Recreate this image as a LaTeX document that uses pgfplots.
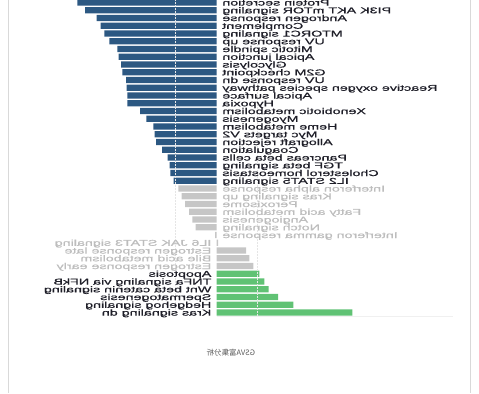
\documentclass[border=0pt]{standalone}
\usepackage{pgfplots}
\pgfplotsset{compat=1.18}
\usepackage{fontspec}
\setmainfont{Liberation Sans}
\newfontfamily\lblfont{Liberation Sans}[FakeBold=0.6]
\newfontfamily\cjk{Noto Sans CJK SC}
\definecolor{bblue}{HTML}{2C5882}
\definecolor{bgray}{HTML}{C6C6C6}
\definecolor{bgreen}{HTML}{60C274}
\definecolor{lgray}{HTML}{BDBDBD}
\definecolor{dtext}{HTML}{1E1E28}
\tikzset{
  lbl/.style={inner sep=0pt, xscale=-1.7, font=\lblfont\fontsize{8.4bp}{9bp}\selectfont, yshift=-3bp},
  lblR/.style={lbl, anchor=base east},
  lblL/.style={lbl, anchor=base west},
}
\begin{document}
\begin{tikzpicture}[x=1bp,y=1bp]
\useasboundingbox (0,0) rectangle (479,-393);
\draw[color=black!15, line width=0.8bp] (8.3,0) -- (8.3,-393);
\draw[color=black!15, line width=0.8bp] (470,0) -- (470,-393);
\begin{axis}[
  at={(56.5bp,-316.4bp)}, anchor=south west,
  scale only axis, width=396.5bp, height=317.75bp,
  xmin=-160, xmax=236.5, ymin=-40.5, ymax=0.5,
  hide axis, clip=false,
  xbar, bar width=6.2bp, bar shift=0pt,
]
\addplot[xbar, bar shift=0pt, fill=bblue, draw=none] coordinates {
(-139.2,0) (-131.5,-1) (-119.8,-2) (-115.8,-3) (-112.2,-4) (-107.2,-5)
(-99.2,-6) (-98,-7) (-95.5,-8) (-94.2,-9) (-90.5,-10) (-89.8,-11)
(-89.2,-12) (-89.2,-13) (-76.5,-14) (-70.2,-15) (-63.2,-16) (-62,-17)
(-60.5,-18) (-54.3,-19) (-48.8,-20) (-46.9,-21) (-46.2,-22) (-42.8,-23)
};
\addplot[xbar, bar shift=0pt, fill=bgray, draw=none] coordinates {
(-38.2,-24) (-35,-25) (-31.5,-26) (-27.5,-27) (-24.2,-28) (-20.8,-29) (-1.5,-30)
(1.5,-31) (29.5,-32) (32.8,-33) (36.8,-34)
};
\addplot[xbar, bar shift=0pt, fill=bgreen, draw=none] coordinates {
(42.8,-35) (47.8,-36) (52.2,-37) (61.5,-38) (76.8,-39) (135.8,-40)
};
\draw[black!10, line width=0.6bp, dash pattern=on 2bp off 1bp] (axis cs:-41,0.5) -- (axis cs:-41,-40.5);
\draw[black!10, line width=0.6bp, dash pattern=on 2bp off 1bp] (axis cs:41,0.5) -- (axis cs:41,-40.5);
\draw[black!6, line width=0.6bp] (axis cs:0,-40.5) -- (axis cs:236.5,-40.5);
% labels, negative side (text to the right of zero)
\node[lblR, text=dtext] at (axis cs:5.5,0) {Protein secretion};
\node[lblR, text=dtext] at (axis cs:5.5,-1) {PI3K AKT mTOR signaling};
\node[lblR, text=dtext] at (axis cs:5.5,-2) {Androgen response};
\node[lblR, text=dtext] at (axis cs:5.5,-3) {Complement};
\node[lblR, text=dtext] at (axis cs:5.5,-4) {MTORC1 signaling};
\node[lblR, text=dtext] at (axis cs:5.5,-5) {UV response up};
\node[lblR, text=dtext] at (axis cs:5.5,-6) {Mitotic spindle};
\node[lblR, text=dtext] at (axis cs:5.5,-7) {Apical junction};
\node[lblR, text=dtext] at (axis cs:5.5,-8) {Glycolysis};
\node[lblR, text=dtext] at (axis cs:5.5,-9) {G2M checkpoint};
\node[lblR, text=dtext] at (axis cs:5.5,-10) {UV response dn};
\node[lblR, text=dtext] at (axis cs:5.5,-11) {Reactive oxygen species pathway};
\node[lblR, text=dtext] at (axis cs:5.5,-12) {Apical surface};
\node[lblR, text=dtext] at (axis cs:5.5,-13) {Hypoxia};
\node[lblR, text=dtext] at (axis cs:5.5,-14) {Xenobiotic metabolism};
\node[lblR, text=dtext] at (axis cs:5.5,-15) {Myogenesis};
\node[lblR, text=dtext] at (axis cs:5.5,-16) {Heme metabolism};
\node[lblR, text=dtext] at (axis cs:5.5,-17) {Myc targets V2};
\node[lblR, text=dtext] at (axis cs:5.5,-18) {Allograft rejection};
\node[lblR, text=dtext] at (axis cs:5.5,-19) {Coagulation};
\node[lblR, text=dtext] at (axis cs:5.5,-20) {Pancreas beta cells};
\node[lblR, text=dtext] at (axis cs:5.5,-21) {TGF beta signaling};
\node[lblR, text=dtext] at (axis cs:5.5,-22) {Cholesterol homeostasis};
\node[lblR, text=dtext] at (axis cs:5.5,-23) {IL2 STAT5 signaling};
\node[lblR, text=lgray] at (axis cs:5.5,-24) {Interferon alpha response};
\node[lblR, text=lgray] at (axis cs:5.5,-25) {Kras signaling up};
\node[lblR, text=lgray] at (axis cs:5.5,-26) {Peroxisome};
\node[lblR, text=lgray] at (axis cs:5.5,-27) {Fatty acid metabolism};
\node[lblR, text=lgray] at (axis cs:5.5,-28) {Angiogenesis};
\node[lblR, text=lgray] at (axis cs:5.5,-29) {Notch signaling};
\node[lblR, text=lgray] at (axis cs:5.5,-30) {Interferon gamma response};
% labels, positive side (text to the left of zero)
\node[lblL, text=lgray] at (axis cs:-4.8,-31) {IL6 JAK STAT3 signaling};
\node[lblL, text=lgray] at (axis cs:-4.8,-32) {Estrogen response late};
\node[lblL, text=lgray] at (axis cs:-4.8,-33) {Bile acid metabolism};
\node[lblL, text=lgray] at (axis cs:-4.8,-34) {Estrogen response early};
\node[lblL, text=dtext] at (axis cs:-4.8,-35) {Apoptosis};
\node[lblL, text=dtext] at (axis cs:-4.8,-36) {TNFa signaling via NFkB};
\node[lblL, text=dtext] at (axis cs:-4.8,-37) {Wnt beta catenin signaling};
\node[lblL, text=dtext] at (axis cs:-4.8,-38) {Spermatogenesis};
\node[lblL, text=dtext] at (axis cs:-4.8,-39) {Hedgehog signaling};
\node[lblL, text=dtext] at (axis cs:-4.8,-40) {Kras signaling dn};
\end{axis}
\node[xscale=-1, text=black!65, inner sep=0pt, font=\cjk\fontsize{7.5bp}{9bp}\selectfont] at (230.8,-352.3) {GSVA富集分析};
\end{tikzpicture}
\end{document}
